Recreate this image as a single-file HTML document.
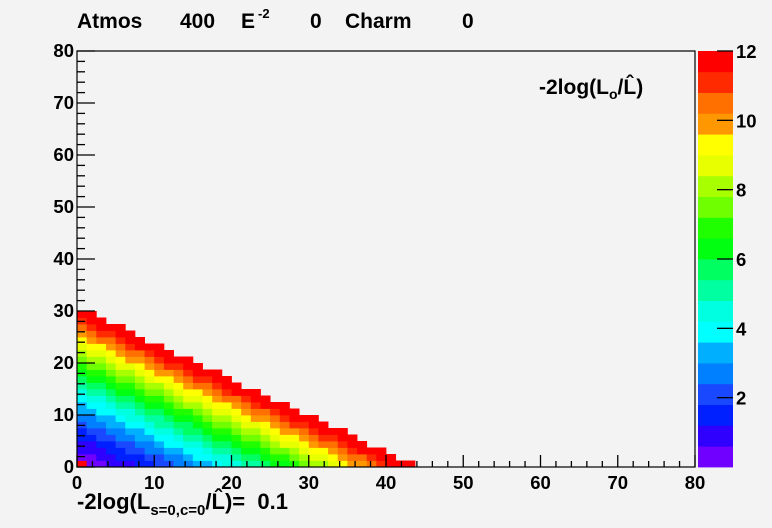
<!DOCTYPE html>
<html><head><meta charset="utf-8"><style>
body{margin:0;background:#f3f3f3;}
svg text{font-family:"Liberation Sans",sans-serif;font-weight:bold;fill:#000;}
</style></head><body>
<svg id="s" width="772" height="523" xmlns="http://www.w3.org/2000/svg">
<rect width="772" height="523" fill="#f3f3f3"/>
<g id="cells"></g>
<g id="bar"></g>
<rect x="77" y="51" width="618" height="416" fill="none" stroke="#000" stroke-width="1.2"/>
<g id="ticks" stroke="#000" stroke-width="1.3"></g>
<g id="labels" font-size="18.5"></g>
<text x="77" y="28" font-size="21">Atmos</text>
<text x="180" y="28" font-size="21">400</text>
<text x="241" y="28" font-size="21">E</text>
<text x="258" y="18" font-size="13">-2</text>
<text x="310" y="28" font-size="21">0</text>
<text x="345" y="28" font-size="21">Charm</text>
<text x="462" y="28" font-size="21">0</text>
<text x="539" y="94" font-size="21">-2log(L<tspan font-size="14" dy="5">o</tspan><tspan dy="-5">/L̂)</tspan></text>
<text x="77" y="509" font-size="22">-2log(L<tspan font-size="15" dy="6">s=0,c=0</tspan><tspan dy="-6">/L̂)=&#160;&#160;0.1</tspan></text>
</svg>
<script>
var NS="http://www.w3.org/2000/svg";
var pal=["#7000ff","#3000ff","#0020ff","#1a48ff","#0080ff","#00b0ff","#00ffff","#00ffe0","#00ffa0","#00ff60","#00ff10","#20ff00","#70ff00","#a8ff00","#e8ff00","#ffff00","#ff9800","#ff7000","#ff2a00","#ff0000"];
var g=document.getElementById("cells");
function rect(p,x,y,w,h,f){var r=document.createElementNS(NS,"rect");r.setAttribute("x",x);r.setAttribute("y",y);r.setAttribute("width",w);r.setAttribute("height",h);r.setAttribute("fill",f);p.appendChild(r);}
var X0=77,Y0=467,sx=618/80,sy=416/80,b=1.25;
for(var i=0;i<64;i++)for(var j=0;j<64;j++){
 var x=(i+0.5)*b,y=(j+0.5)*b;
 var t=x/44.3+y/30.8; if(t>=1)continue;
 var v=12.6*Math.pow(t,1.4);
 var k=Math.min(19,Math.floor(v/0.6));
 if(i==0&&j==0)k=19;
 rect(g,X0+i*b*sx,Y0-(j+1)*b*sy,b*sx+0.4,b*sy+0.4,pal[k]);
}
var bar=document.getElementById("bar");
for(var k=0;k<20;k++)rect(bar,698,467-(k+1)*20.8,35,21.2,pal[k]);
var tk=document.getElementById("ticks"),lb=document.getElementById("labels");
function line(x1,y1,x2,y2){var l=document.createElementNS(NS,"line");l.setAttribute("x1",x1);l.setAttribute("y1",y1);l.setAttribute("x2",x2);l.setAttribute("y2",y2);tk.appendChild(l);}
function txt(x,y,s,a){var t=document.createElementNS(NS,"text");t.setAttribute("x",x);t.setAttribute("y",y);t.setAttribute("text-anchor",a);t.textContent=s;lb.appendChild(t);}
for(var v=0;v<=80;v+=2){var maj=v%10==0;
 var px=X0+v*sx;line(px,Y0,px,Y0-(maj?12:6));
 var py=Y0-v*sy;line(X0,py,X0+(maj?18:8),py);
 if(maj){txt(px,489,String(v),"middle");txt(74,py+6,String(v),"end");}
}
for(var z=2;z<=12;z+=2){var py=467-z*416/12;line(733,py,717,py);txt(736,py+7,String(z),"start");}
</script>
</body></html>
